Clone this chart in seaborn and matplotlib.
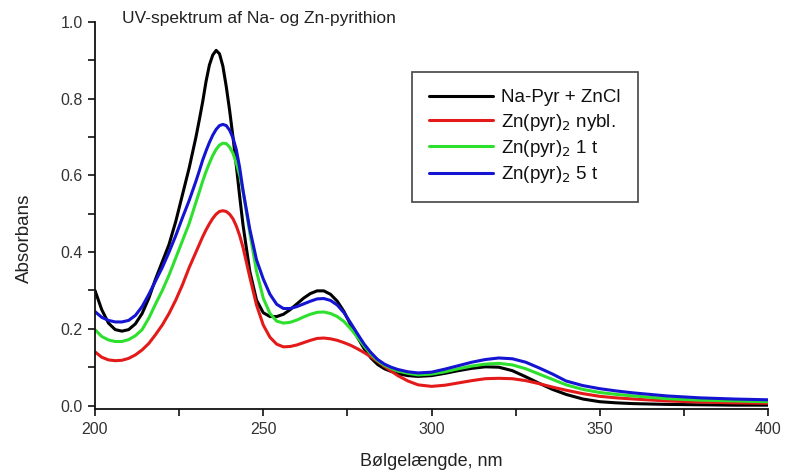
import numpy as np
import pandas as pd
import matplotlib
matplotlib.use('Agg')
import matplotlib.pyplot as plt
import seaborn as sns
from matplotlib.ticker import MultipleLocator, FormatStrFormatter

sns.set_theme(style='ticks')
plt.rcParams['font.family'] = ['Liberation Sans', 'DejaVu Sans']

# ---------------- data ----------------
wavelength = [200, 202, 204, 206, 208, 210, 212, 214, 216, 218,
              220, 222, 224, 226, 228, 230, 231, 232, 233, 234,
              235, 236, 237, 238, 239, 240, 241, 242, 243, 244,
              246, 248, 250, 252, 254, 256, 258, 260, 262, 264,
              266, 268, 270, 272, 274, 276, 278, 280, 282, 284,
              286, 288, 290, 293, 296, 300, 304, 308, 312, 316,
              320, 324, 328, 332, 336, 340, 345, 350, 355, 360,
              370, 380, 390, 400]

na_pyr_zncl = [0.30, 0.25, 0.215, 0.198, 0.194, 0.198, 0.213, 0.24, 0.28, 0.33,
               0.375, 0.42, 0.48, 0.55, 0.62, 0.70, 0.745, 0.792, 0.845, 0.888,
               0.914, 0.926, 0.917, 0.885, 0.832, 0.77, 0.70, 0.625, 0.545, 0.47,
               0.35, 0.275, 0.242, 0.232, 0.232, 0.238, 0.25, 0.265, 0.28, 0.292,
               0.299, 0.299, 0.29, 0.272, 0.245, 0.21, 0.178, 0.148, 0.124, 0.107,
               0.096, 0.089, 0.083, 0.078, 0.076, 0.078, 0.084, 0.091, 0.097, 0.101,
               0.10, 0.091, 0.075, 0.058, 0.042, 0.029, 0.017, 0.01, 0.007, 0.005,
               0.003, 0.002, 0.001, 0.001]

zn_pyr_nybl = [0.14, 0.126, 0.119, 0.117, 0.118, 0.123, 0.132, 0.145, 0.162, 0.185,
               0.21, 0.24, 0.275, 0.315, 0.36, 0.40, 0.42, 0.44, 0.458, 0.474,
               0.488, 0.499, 0.506, 0.508, 0.506, 0.499, 0.487, 0.468, 0.443, 0.412,
               0.335, 0.262, 0.21, 0.178, 0.16, 0.153, 0.154, 0.158, 0.164, 0.17,
               0.175, 0.176, 0.174, 0.17, 0.164, 0.157, 0.148, 0.138, 0.127, 0.115,
               0.102, 0.09, 0.078, 0.064, 0.054, 0.05, 0.053, 0.059, 0.065, 0.07,
               0.071, 0.07, 0.065, 0.057, 0.048, 0.04, 0.031, 0.024, 0.02, 0.017,
               0.012, 0.009, 0.007, 0.006]

zn_pyr_1t = [0.198, 0.18, 0.171, 0.167, 0.167, 0.172, 0.182, 0.198, 0.228, 0.265,
             0.30, 0.34, 0.385, 0.43, 0.475, 0.53, 0.557, 0.585, 0.61, 0.632,
             0.652, 0.668, 0.679, 0.684, 0.683, 0.674, 0.658, 0.632, 0.60, 0.56,
             0.45, 0.35, 0.28, 0.24, 0.22, 0.215, 0.217, 0.223, 0.231, 0.238,
             0.243, 0.244, 0.24, 0.232, 0.219, 0.20, 0.178, 0.155, 0.134, 0.117,
             0.105, 0.097, 0.09, 0.084, 0.08, 0.082, 0.088, 0.096, 0.103, 0.108,
             0.11, 0.106, 0.096, 0.082, 0.068, 0.054, 0.042, 0.034, 0.029, 0.025,
             0.018, 0.014, 0.012, 0.01]

zn_pyr_5t = [0.245, 0.23, 0.222, 0.218, 0.218, 0.222, 0.235, 0.258, 0.29, 0.325,
             0.36, 0.40, 0.443, 0.49, 0.535, 0.585, 0.612, 0.64, 0.664, 0.686,
             0.705, 0.72, 0.73, 0.733, 0.73, 0.718, 0.698, 0.667, 0.62, 0.56,
             0.46, 0.38, 0.33, 0.29, 0.264, 0.253, 0.253, 0.258, 0.265, 0.272,
             0.278, 0.279, 0.274, 0.262, 0.242, 0.215, 0.187, 0.16, 0.138, 0.12,
             0.108, 0.10, 0.094, 0.088, 0.085, 0.087, 0.095, 0.104, 0.113, 0.12,
             0.124, 0.122, 0.113, 0.098, 0.082, 0.064, 0.052, 0.044, 0.038, 0.033,
             0.025, 0.02, 0.017, 0.015]

series_labels = ['Na-Pyr + ZnCl', r'Zn(pyr)$_2$ nybl.', r'Zn(pyr)$_2$ 1 t', r'Zn(pyr)$_2$ 5 t']
series_values = [na_pyr_zncl, zn_pyr_nybl, zn_pyr_1t, zn_pyr_5t]
series_colors = ['#000000', '#e41a1a', '#2ee02e', '#1414d2']

title_text = 'UV-spektrum af Na- og Zn-pyrithion'
xlabel_text = 'Bølgelængde, nm'
ylabel_text = 'Absorbans'

# ---------------- build long table ----------------
frames = []
for lab, vals in zip(series_labels, series_values):
    frames.append(pd.DataFrame({'wl': wavelength, 'A': vals, 'series': lab}))
df = pd.concat(frames, ignore_index=True)

# ---------------- figure ----------------
fig = plt.figure(figsize=(7.89, 4.70), dpi=100)
ax = fig.add_axes([95 / 789, 1 - 409 / 470, (768 - 95) / 789, (409 - 22) / 470])

sns.lineplot(data=df, x='wl', y='A', hue='series', hue_order=series_labels,
             palette=dict(zip(series_labels, series_colors)), linewidth=2.2,
             errorbar=None, ax=ax)
for ln in ax.get_lines():
    ln.set_solid_joinstyle('round')
    ln.set_solid_capstyle('round')

ax.set_xlim(200, 400)
ax.set_ylim(-0.009, 1.0)
ax.xaxis.set_major_locator(MultipleLocator(50))
ax.xaxis.set_minor_locator(MultipleLocator(25))
ax.yaxis.set_major_locator(MultipleLocator(0.2))
ax.yaxis.set_minor_locator(MultipleLocator(0.1))
ax.yaxis.set_major_formatter(FormatStrFormatter('%.1f'))

for s in ['top', 'right']:
    ax.spines[s].set_visible(False)
for s in ['left', 'bottom']:
    ax.spines[s].set_linewidth(1.3)
    ax.spines[s].set_color('#111111')

ax.tick_params(which='both', direction='out', length=5, width=1.2, color='#111111')
ax.tick_params(which='major', labelsize=11.5, labelcolor='#333333', pad=4)

ax.set_xlabel(xlabel_text, fontsize=13, color='#222222', labelpad=12)
ax.set_ylabel('')
fig.text(24 / 789, 1 - 238 / 470, ylabel_text, fontsize=13.5, color='#222222',
         rotation=90, ha='center', va='center')

fig.text(122 / 789, 1 - 19 / 470, title_text, fontsize=12.5, color='#222222',
         ha='left', va='center')

handles, labels = ax.get_legend_handles_labels()
leg = ax.legend(handles, labels, loc='upper left',
                bbox_to_anchor=(403 / 789, 1 - 63 / 470), bbox_transform=fig.transFigure,
                frameon=True, fancybox=False, framealpha=1, edgecolor='#444444',
                fontsize=13.5, handlelength=3.4, borderpad=0.9, labelspacing=0.28,
                handletextpad=0.45)
leg.get_frame().set_linewidth(1.2)
for t in leg.get_texts():
    t.set_color('#111111')

fig.savefig('out.png', dpi=100)
